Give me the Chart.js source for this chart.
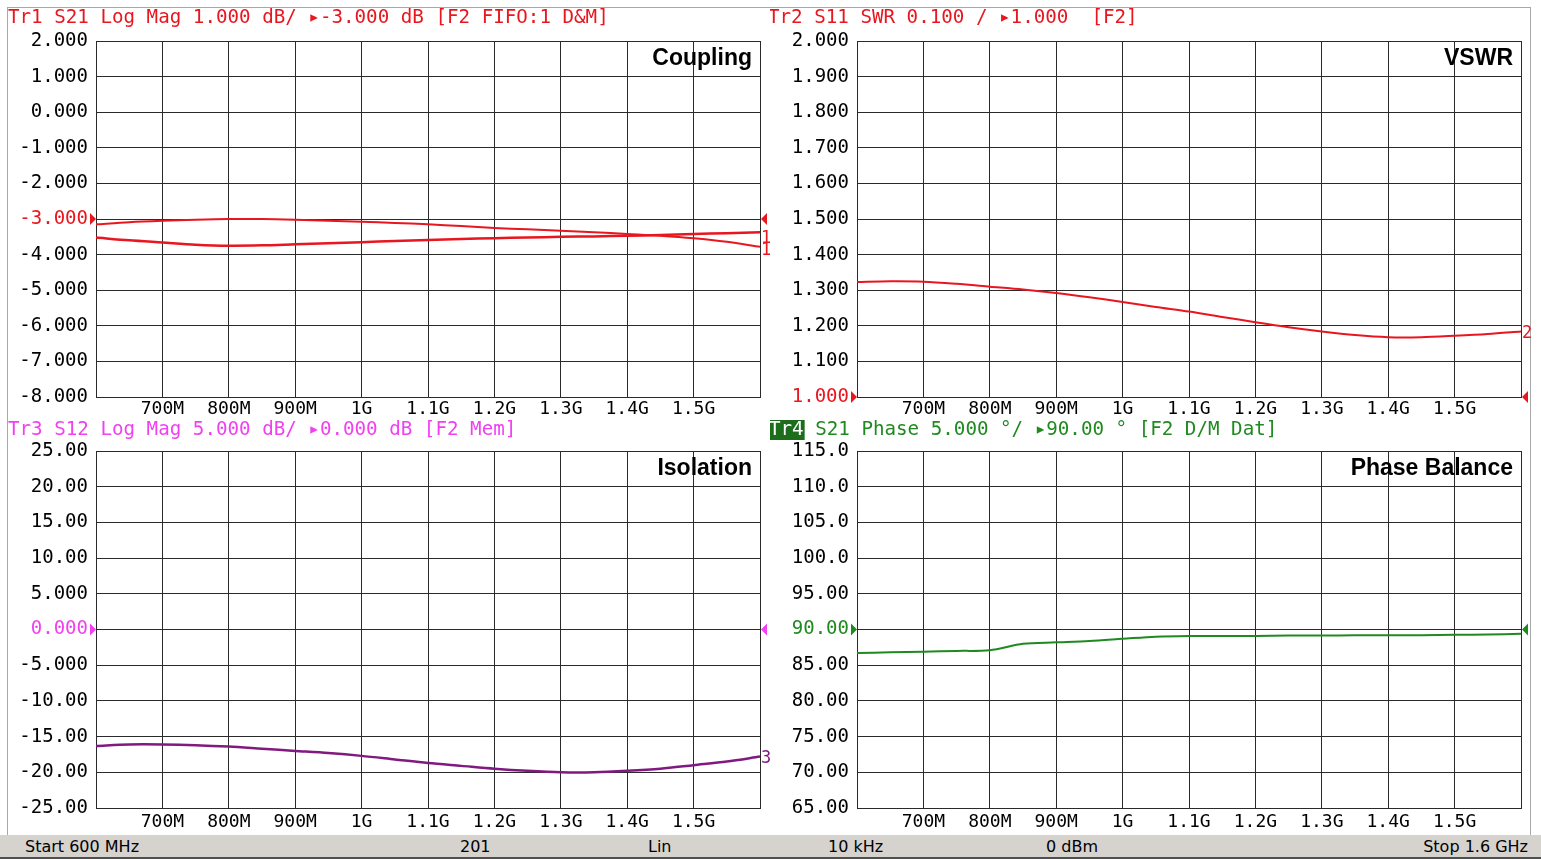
<!DOCTYPE html>
<html>
<head>
<meta charset="utf-8">
<script src="https://cdn.jsdelivr.net/npm/chart.js@4/dist/chart.umd.min.js"></script>
<style>
  body { margin:0; background:#fff; width:1541px; height:859px; position:relative; overflow:hidden; }
  canvas { position:absolute; }
  #frame { position:absolute; left:7px; top:7px; width:1524px; height:829px; border:1px solid #a8a8a8; box-sizing:border-box; }
  #status { position:absolute; left:0; top:835px; width:1541px; height:24px; background:#d6d3ce;
            border-bottom:2px solid #505050; box-sizing:border-box; font:16px "DejaVu Sans", sans-serif; color:#000; }
  #status span { position:absolute; top:2px; white-space:nowrap; }
</style>
</head>
<body>
<div id="frame"></div>
<canvas id="c1" width="770" height="420" style="left:0;top:0"></canvas>
<canvas id="c2" width="771" height="420" style="left:770px;top:0"></canvas>
<canvas id="c3" width="770" height="415" style="left:0;top:420px"></canvas>
<canvas id="c4" width="771" height="415" style="left:770px;top:420px"></canvas>
<div id="status">
  <span style="left:25px">Start 600 MHz</span>
  <span style="left:460px">201</span>
  <span style="left:648px">Lin</span>
  <span style="left:828px">10 kHz</span>
  <span style="left:1046px">0 dBm</span>
  <span style="right:13px">Stop 1.6 GHz</span>
</div>
<script>
// frequency points (MHz)
const freq = [600,650,700,750,800,850,900,950,1000,1050,1100,1150,1200,1250,1300,1350,1400,1450,1500,1550,1600];

// Tr1 S21 coupling, data and memory (dB)
const couplingData = [-3.15,-3.09,-3.05,-3.02,-3.00,-3.00,-3.02,-3.05,-3.08,-3.11,-3.15,-3.20,-3.25,-3.29,-3.33,-3.37,-3.42,-3.47,-3.54,-3.64,-3.78];
const couplingMem  = [-3.52,-3.60,-3.66,-3.72,-3.75,-3.74,-3.71,-3.68,-3.65,-3.62,-3.59,-3.56,-3.54,-3.52,-3.50,-3.49,-3.47,-3.45,-3.42,-3.40,-3.37];
// Tr2 S11 VSWR
const vswr = [1.323,1.325,1.324,1.318,1.310,1.302,1.292,1.280,1.267,1.253,1.240,1.225,1.210,1.196,1.184,1.174,1.168,1.168,1.172,1.177,1.184];
// Tr3 S12 isolation (dB)
const isolation = [-16.3,-16.1,-16.1,-16.2,-16.4,-16.7,-17.0,-17.3,-17.7,-18.2,-18.7,-19.1,-19.5,-19.8,-20.0,-20.0,-19.8,-19.5,-19.0,-18.5,-17.8];
// Tr4 S21 phase (deg)
const phase = [86.7,86.8,86.9,87.0,87.1,88.0,88.2,88.4,88.7,89.0,89.1,89.1,89.1,89.15,89.15,89.2,89.2,89.2,89.25,89.3,89.4];

const xTickLabels = {700:'700M',800:'800M',900:'900M',1000:'1G',1100:'1.1G',1200:'1.2G',1300:'1.3G',1400:'1.4G',1500:'1.5G'};

const RED = '#e8161e', MAGENTA = '#f040f0', PURPLE = '#801a80', GREEN = '#1f8a1f';
const MONO = '"DejaVu Sans Mono", monospace';

function fmt4(v) {
  const a = Math.abs(v);
  if (a >= 99.95) return v.toFixed(1);
  if (a >= 9.995) return v.toFixed(2);
  return v.toFixed(3);
}
function pts(ys) { return freq.map((f, i) => ({x: f, y: ys[i]})); }

const overlay = {
  id: 'overlay',
  afterDraw(chart) {
    const o = chart.options.plugins.overlay;
    const ctx = chart.ctx, a = chart.chartArea, ys = chart.scales.y;
    ctx.save();
    // header line
    ctx.font = '19.2px ' + MONO;
    ctx.textBaseline = 'middle';
    ctx.textAlign = 'left';
    let x = o.hx;
    if (o.box) {
      const w = ctx.measureText(o.box).width;
      ctx.fillStyle = '#1c6e1c';
      ctx.fillRect(x - 1, o.hy - 10, w + 2, 20);
      ctx.fillStyle = '#fff';
      ctx.fillText(o.box, x, o.hy);
      x += w;
    }
    ctx.fillStyle = o.hcolor;
    ctx.fillText(o.header, x, o.hy);
    // title
    ctx.font = 'bold 23px "Liberation Sans", Arial, sans-serif';
    ctx.textAlign = 'right';
    ctx.fillStyle = '#000';
    ctx.fillText(o.title, a.right - 8, a.top + 18);
    // reference markers
    const ry = ys.getPixelForValue(o.ref);
    ctx.fillStyle = o.refColor;
    ctx.beginPath();
    ctx.moveTo(a.left - 6, ry - 6); ctx.lineTo(a.left, ry); ctx.lineTo(a.left - 6, ry + 6);
    ctx.fill();
    ctx.beginPath();
    ctx.moveTo(a.right + 1, ry); ctx.lineTo(a.right + 7, ry - 6); ctx.lineTo(a.right + 7, ry + 6);
    ctx.fill();
    // trace end labels
    ctx.font = '17px ' + MONO;
    ctx.textAlign = 'left';
    o.ends.forEach(e => {
      ctx.fillStyle = e.color;
      ctx.fillText(e.text, a.right + 1, ys.getPixelForValue(e.value) + 2);
    });
    ctx.restore();
  }
};

function panel(id, cfg) {
  return new Chart(document.getElementById(id), {
    type: 'line',
    data: { datasets: cfg.datasets.map(d => ({
      data: pts(d.values), borderColor: d.color, borderWidth: d.width,
      pointRadius: 0, tension: 0.3, fill: false
    })) },
    options: {
      responsive: false, animation: false,
      layout: { padding: { top: cfg.top, right: cfg.right, left: 0, bottom: 0 } },
      plugins: { legend: { display: false }, tooltip: { enabled: false }, overlay: cfg.overlay },
      scales: {
        x: {
          type: 'linear', min: 600, max: 1600,
          afterFit: s => { s.height = cfg.xh; },
          grid: { color: '#2a2a2a', lineWidth: 1, drawTicks: false },
          border: { color: '#2a2a2a' },
          ticks: { stepSize: 100, padding: cfg.xpad, color: '#000', maxRotation: 0, autoSkip: false,
                   font: { family: MONO, size: 18 },
                   callback: v => xTickLabels[v] || '' }
        },
        y: {
          min: cfg.min, max: cfg.max,
          afterFit: s => { s.width = cfg.yw; },
          grid: { color: '#2a2a2a', lineWidth: 1, drawTicks: false },
          border: { color: '#2a2a2a' },
          ticks: { stepSize: cfg.step, padding: 8, font: { family: MONO, size: 19 },
                   color: c => Math.abs(c.tick.value - cfg.overlay.ref) < 1e-6 ? cfg.overlay.refColor : '#000',
                   callback: v => fmt4(v) }
        }
      }
    },
    plugins: [overlay]
  });
}

panel('c1', {
  min: -8, max: 2, step: 1, top: 41, right: 10, yw: 96, xh: 23, xpad: 2,
  datasets: [{values: couplingData, color: RED, width: 2}, {values: couplingMem, color: RED, width: 2.5}],
  overlay: { hx: 8, hy: 18, hcolor: RED, header: 'Tr1 S21 Log Mag 1.000 dB/ \u25B8-3.000 dB [F2 FIFO:1 D&M]',
             title: 'Coupling', ref: -3, refColor: RED,
             ends: [{text: '1', value: -3.50, color: RED}, {text: '1', value: -3.82, color: RED}] }
});

panel('c2', {
  min: 1.0, max: 2.0, step: 0.1, top: 41, right: 20, yw: 87, xh: 23, xpad: 2,
  datasets: [{values: vswr, color: RED, width: 2}],
  overlay: { hx: -2, hy: 18, hcolor: RED, header: 'Tr2 S11 SWR 0.100 / \u25B81.000  [F2]',
             title: 'VSWR', ref: 1.0, refColor: RED,
             ends: [{text: '2', value: 1.184, color: RED}] }
});

panel('c3', {
  min: -25, max: 25, step: 5, top: 31, right: 10, yw: 96, xh: 27, xpad: 4,
  datasets: [{values: isolation, color: PURPLE, width: 2.5}],
  overlay: { hx: 8, hy: 10, hcolor: MAGENTA, header: 'Tr3 S12 Log Mag 5.000 dB/ \u25B80.000 dB [F2 Mem]',
             title: 'Isolation', ref: 0, refColor: MAGENTA,
             ends: [{text: '3', value: -17.8, color: PURPLE}] }
});

panel('c4', {
  min: 65, max: 115, step: 5, top: 31, right: 20, yw: 87, xh: 27, xpad: 4,
  datasets: [{values: phase, color: GREEN, width: 2}],
  overlay: { hx: -1, hy: 10, hcolor: GREEN, box: 'Tr4', header: ' S21 Phase 5.000 \u00B0/ \u25B890.00 \u00B0 [F2 D/M Dat]',
             title: 'Phase Balance', ref: 90, refColor: GREEN, ends: [] }
});
</script>
</body>
</html>
